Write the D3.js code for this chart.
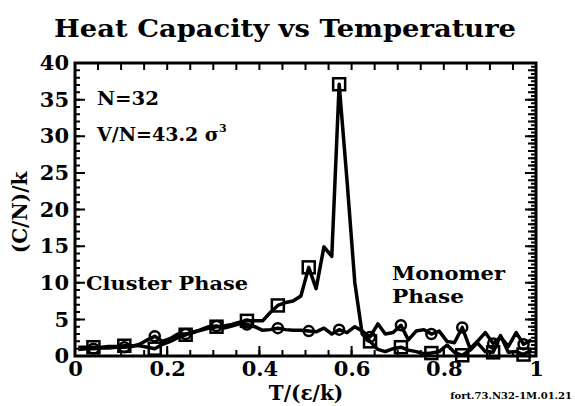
<!DOCTYPE html>
<html>
<head>
<meta charset="utf-8">
<script src="https://cdn.jsdelivr.net/npm/d3@7"></script>
<style>
  body { margin: 0; background: #fff; }
  text { font-family: "DejaVu Serif", serif; font-weight: bold; fill: #000; }
</style>
</head>
<body>
<div id="chart"><svg></svg></div>
<script>
// temperatures T/(eps/k)
const temps = [0.007, 0.023, 0.040, 0.057, 0.073, 0.090, 0.107, 0.123, 0.140, 0.157,
  0.173, 0.190, 0.207, 0.223, 0.240, 0.257, 0.273, 0.290, 0.307, 0.323,
  0.340, 0.357, 0.373, 0.390, 0.407, 0.423, 0.440, 0.457, 0.473, 0.490,
  0.507, 0.523, 0.540, 0.557, 0.573, 0.590, 0.607, 0.623, 0.640, 0.657,
  0.673, 0.690, 0.707, 0.723, 0.740, 0.757, 0.773, 0.790, 0.807, 0.823,
  0.840, 0.857, 0.873, 0.890, 0.907, 0.923, 0.940, 0.957, 0.973, 0.990];

// (C/N)/k, series drawn with squares
const squareVals = [1.2, 1.2, 1.2, 1.2, 1.3, 1.3, 1.4, 1.4, 1.4, 1.2,
  1.0, 1.6, 2.0, 2.5, 2.9, 3.3, 3.5, 3.8, 4.0, 4.1,
  4.3, 4.6, 4.8, 4.8, 4.8, 5.9, 6.9, 7.3, 7.5, 8.2,
  12.1, 9.2, 14.9, 13.6, 37.1, 24.0, 10.0, 3.0, 2.0, 0.9,
  0.6, 1.0, 1.2, 0.8, 0.6, 0.3, 0.4, 0.6, 1.5, 0.5,
  0.1, 0.8, 1.8, 0.6, 0.5, 2.8, 0.5, 0.6, 0.2, 0.8];

// (C/N)/k, series drawn with circles
const circleVals = [0.9, 1.0, 1.0, 1.1, 1.1, 1.2, 1.2, 1.3, 1.6, 2.2,
  2.7, 2.0, 2.4, 3.0, 3.0, 3.2, 3.6, 4.0, 4.1, 3.8,
  4.1, 4.4, 4.3, 4.0, 3.5, 3.6, 3.8, 3.6, 3.5, 3.5,
  3.4, 3.3, 3.8, 3.0, 3.6, 3.2, 4.0, 3.4, 2.6, 4.4,
  3.0, 3.2, 4.2, 2.2, 3.4, 3.6, 3.0, 3.4, 2.0, 1.8,
  3.9, 1.0, 2.0, 3.2, 1.7, 2.6, 1.3, 3.2, 1.6, 2.2];

const xTicks = [0, 0.2, 0.4, 0.6, 0.8, 1];
const yTicks = [0, 5, 10, 15, 20, 25, 30, 35, 40];

const width = 575, height = 406;
const margin = ({top: 63, right: 39, bottom: 50, left: 75});

const x = d3.scaleLinear([0, 1], [margin.left, width - margin.right]);
const y = d3.scaleLinear([0, 40], [height - margin.bottom, margin.top]);

const svg = d3.select('#chart').select('svg')
  .attr('width', width)
  .attr('height', height);

// title
svg.append('text')
  .attr('x', 285).attr('y', 37)
  .attr('text-anchor', 'middle')
  .attr('font-size', 24)
  .attr('textLength', 462).attr('lengthAdjust', 'spacingAndGlyphs')
  .text('Heat Capacity vs Temperature');

const plotW = width - margin.left - margin.right;
const plotH = height - margin.top - margin.bottom;

// frame
svg.append('rect')
  .attr('x', x(0)).attr('y', y(40))
  .attr('width', plotW).attr('height', plotH)
  .attr('fill', 'none').attr('stroke', '#000').attr('stroke-width', 3);

// inward tick marks, one path per side, built from the scales
const hPath = (vals, y0, len) => vals.map(d => `M${x(d)},${y0}v${len}`).join('');
const vPath = (vals, x0, len) => vals.map(d => `M${x0},${y(d)}h${len}`).join('');
const tickPaths = [
  hPath(d3.range(0, 1.001, 0.05), y(0), -6),
  hPath(xTicks, y(0), -10),
  hPath(d3.range(0, 1.001, 0.05), y(40), 7),
  vPath(d3.range(0, 40.01, 1), x(0), 5),
  vPath(yTicks, x(0), 10),
  vPath(d3.range(0, 40.01, 0.5), x(1), -5),
  vPath(d3.range(0, 40.01, 1), x(1), -8),
  vPath(yTicks, x(1), -11)
];
svg.append('g').selectAll('path.tick')
  .data(tickPaths)
  .join('path')
  .attr('class', 'tick')
  .attr('d', d => d)
  .style('stroke', '#000')
  .style('stroke-width', '2px')
  .style('fill', 'none');

// tick labels from the axes
const gAxes = svg.append('g');
gAxes.append('g').attr('transform', `translate(0,${y(0)})`)
  .call(d3.axisBottom(x).tickValues(xTicks).tickSize(0).tickPadding(5)
    .tickFormat(d => d === 0 || d === 1 ? d3.format('d')(d) : d3.format('.1f')(d)));
gAxes.append('g').attr('transform', `translate(${x(0)},0)`)
  .call(d3.axisLeft(y).tickValues(yTicks).tickSize(0).tickPadding(6).tickFormat(d3.format('d')));
gAxes.selectAll('.domain').remove();
gAxes.selectAll('.tick text').attr('font-size', 21)
  .attr('font-family', '"DejaVu Serif", serif').attr('font-weight', 'bold');

const line = d3.line().x(d => x(d[0])).y(d => y(d[1]));
const sqData = temps.map((t, i) => [t, squareVals[i]]);
const ciData = temps.map((t, i) => [t, circleVals[i]]);

svg.append('g').selectAll('path')
  .data([ciData, sqData])
  .join('path')
  .attr('d', line)
  .attr('fill', 'none')
  .attr('stroke', '#000')
  .attr('stroke-width', 3.5)
  .attr('stroke-linejoin', 'round');

// markers every 4th point
const isMark = (d, i) => i % 4 === 2;

svg.append('g').selectAll('circle')
  .data(ciData.filter(isMark))
  .join('circle')
  .attr('cx', d => x(d[0])).attr('cy', d => y(d[1]))
  .attr('r', 5)
  .attr('fill', 'none').attr('stroke', '#000').attr('stroke-width', 2.5);

const s = 12;
svg.append('g').selectAll('rect')
  .data(sqData.filter(isMark))
  .join('rect')
  .attr('x', d => x(d[0]) - s / 2).attr('y', d => y(d[1]) - s / 2)
  .attr('width', s).attr('height', s)
  .attr('fill', 'none').attr('stroke', '#000').attr('stroke-width', 2.5);

// annotations
svg.append('text').attr('x', 97).attr('y', 105).attr('font-size', 19)
  .attr('textLength', 62).attr('lengthAdjust', 'spacingAndGlyphs').text('N=32');
const vn = svg.append('text').attr('x', 97).attr('y', 141).attr('font-size', 19);
vn.append('tspan').text('V/N=43.2 σ');
vn.append('tspan').attr('dy', -9).attr('font-size', 11).text('3');

svg.append('text').attr('x', 86).attr('y', 290).attr('font-size', 19)
  .attr('textLength', 162).attr('lengthAdjust', 'spacingAndGlyphs').text('Cluster Phase');
svg.append('text').attr('x', 392).attr('y', 280).attr('font-size', 19)
  .attr('textLength', 113).attr('lengthAdjust', 'spacingAndGlyphs').text('Monomer');
svg.append('text').attr('x', 392).attr('y', 303).attr('font-size', 19)
  .attr('textLength', 72).attr('lengthAdjust', 'spacingAndGlyphs').text('Phase');

// axis labels
svg.append('text')
  .attr('transform', `translate(27,${y(20) + 3}) rotate(-90)`)
  .attr('text-anchor', 'middle').attr('font-size', 20)
  .text('(C/N)/k');
svg.append('text')
  .attr('x', 306).attr('y', 400)
  .attr('text-anchor', 'middle').attr('font-size', 20)
  .text('T/(ε/k)');
svg.append('text')
  .attr('x', 572).attr('y', 399)
  .attr('text-anchor', 'end').attr('font-size', 10)
  .text('fort.73.N32-1M.01.21');
</script>
</body>
</html>
